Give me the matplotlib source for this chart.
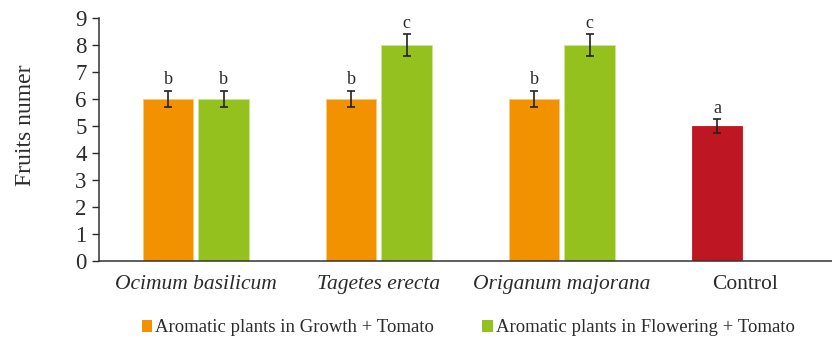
import numpy as np
import matplotlib.pyplot as plt
from matplotlib.patches import Patch

# Mean fruit number per treatment, with error bars and significance letters
categories = ["Ocimum basilicum", "Tagetes erecta", "Origanum majorana", "Control"]
growth = [6, 6, 6]
growth_err = [0.3, 0.3, 0.3]
growth_letters = ["b", "b", "b"]
flowering = [6, 8, 8]
flowering_err = [0.3, 0.4, 0.4]
flowering_letters = ["b", "c", "c"]
control = 5
control_err = 0.25
control_letter = "a"

orange = "#F39200"
green = "#95C11F"
red = "#BE1622"
text_col = "#2b2b2b"

plt.rcParams["font.family"] = ["Liberation Serif", "DejaVu Serif"]

fig = plt.figure(figsize=(8.32, 3.41), dpi=100)
ax = fig.add_axes([99 / 832, 1 - 261 / 341, 733 / 832, 243 / 341])

x = np.arange(3)
w = 0.277
off = 0.152
err_kw = dict(ecolor="#222222", elinewidth=1.2, capsize=2.7, capthick=1.2)

ax.bar(x - off, growth, w, color=orange, edgecolor="#f8c880", linewidth=0.6,
       yerr=growth_err, error_kw=err_kw)
ax.bar(x + off, flowering, w, color=green, edgecolor="#cde39a", linewidth=0.6,
       yerr=flowering_err, error_kw=err_kw)
ax.bar(3 - off, control, w, color=red, edgecolor=red, linewidth=0.6,
       yerr=control_err, error_kw=err_kw)

# significance letters just above each error bar
for i in range(3):
    ax.text(i - off, growth[i] + growth_err[i] + 0.1, growth_letters[i],
            ha="center", va="bottom", fontsize=13, color=text_col)
    ax.text(i + off, flowering[i] + flowering_err[i] + 0.1, flowering_letters[i],
            ha="center", va="bottom", fontsize=13, color=text_col)
ax.text(3 - off, control + control_err + 0.1, control_letter,
        ha="center", va="bottom", fontsize=13, color=text_col)

ax.set_xlim(-0.529, 3.476)
ax.set_ylim(0, 9)
ax.set_yticks(range(10))
ax.tick_params(axis="y", labelsize=16.5, colors=text_col, length=5, width=1, pad=4)
ax.set_xticks(range(4))
ax.set_xticklabels(categories, fontsize=15.5, color=text_col)
for lab in ax.get_xticklabels()[:3]:
    lab.set_style("italic")
ax.tick_params(axis="x", length=0, pad=10)
ax.set_ylabel("Fruits numer", fontsize=17, color=text_col)
ax.yaxis.set_label_coords(-0.086, 0.558)

for s in ["top", "right"]:
    ax.spines[s].set_visible(False)
for s in ["left", "bottom"]:
    ax.spines[s].set_color("#333333")
    ax.spines[s].set_linewidth(1.1)

handles = [Patch(facecolor=orange, label="Aromatic plants in Growth + Tomato"),
           Patch(facecolor=green, label="Aromatic plants in Flowering + Tomato")]
fig.legend(handles=handles, loc="center", bbox_to_anchor=(468 / 832, 1 - 328 / 341),
           ncol=2, frameon=False, fontsize=13.5, handlelength=0.55, handleheight=0.55,
           handletextpad=0.15, columnspacing=2.6, labelcolor=text_col)

fig.savefig("out.png", dpi=100)
